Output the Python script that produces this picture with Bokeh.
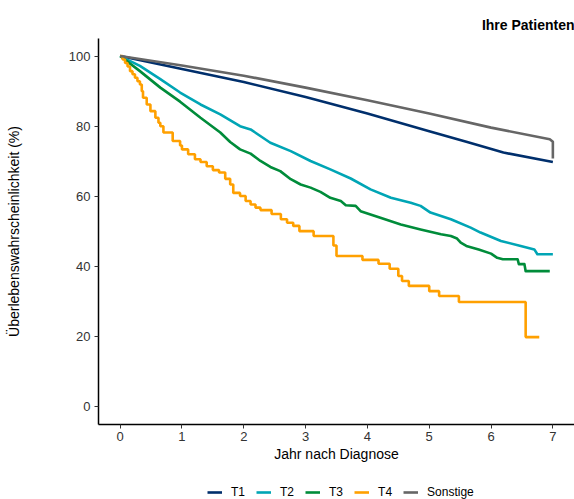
from bokeh.plotting import figure
from bokeh.layouts import column
from bokeh.models import Range1d, FixedTicker, Legend, LegendItem
from bokeh.embed import file_html
from bokeh.resources import INLINE

# ---- data ----
x_ticks = [0, 1, 2, 3, 4, 5, 6, 7]
y_ticks = [0, 20, 40, 60, 80, 100]

series_names = ["T1", "T2", "T3", "T4", "Sonstige"]

t1_time = [0, 1, 2, 3, 4, 5, 5.6, 6.2, 7.0]
t1_surv = [100, 96.3, 92.6, 88.3, 83.6, 78.6, 75.6, 72.5, 69.8]

t2_time = [0, 0.32, 0.65, 0.97, 1.3, 1.62, 1.94, 2.11, 2.43, 2.76, 3.08, 3.4, 3.73,
           4.05, 4.38, 4.7, 4.86, 5.02, 5.35, 5.67, 5.83, 6.16, 6.48, 6.7, 6.75, 7.0]
t2_surv = [100, 97.2, 93.4, 89.6, 86.2, 83.4, 80.0, 79.1, 75.3, 72.9, 70.1, 67.7, 65.1,
           62.0, 59.6, 58.2, 57.3, 55.4, 53.5, 51.1, 49.7, 47.3, 45.9, 44.9, 43.5, 43.5]

t3_time = [0, 0.32, 0.65, 0.97, 1.3, 1.62, 1.78, 1.94, 2.11, 2.27, 2.43, 2.59, 2.76,
           2.92, 3.08, 3.24, 3.4, 3.57, 3.65, 3.81, 3.89, 4.21, 4.54, 4.86, 5.19, 5.35,
           5.45, 5.51, 5.6, 5.8, 6.0, 6.1, 6.19, 6.43, 6.45, 6.54, 6.56, 6.95]
t3_surv = [100, 95.7, 91.0, 87.0, 82.4, 78.2, 75.5, 73.4, 72.2, 70.1, 68.4, 67.2, 64.9,
           63.4, 62.5, 61.3, 59.6, 58.7, 57.5, 57.3, 55.8, 53.9, 52.0, 50.6, 49.2, 48.7,
           48.0, 46.8, 45.9, 44.9, 43.7, 42.5, 42.1, 42.1, 40.7, 40.7, 38.7, 38.7]

t4_time = [0, 0.04, 0.08, 0.12, 0.16, 0.20, 0.24, 0.28, 0.32, 0.35, 0.37, 0.43, 0.49,
           0.57, 0.62, 0.65, 0.70, 0.85, 0.97, 1.00, 1.10, 1.21, 1.30, 1.40, 1.50, 1.60,
           1.70, 1.78, 1.83, 1.94, 2.03, 2.11, 2.19, 2.27, 2.45, 2.60, 2.70, 2.80, 2.90,
           3.13, 3.45, 3.50, 3.92, 4.18, 4.36, 4.50, 4.56, 4.67, 5.00, 5.16, 5.48, 6.56, 6.78]
t4_surv = [100, 99.0, 98.0, 97.0, 95.7, 94.8, 93.8, 92.8, 91.9, 90.0, 88.1, 86.2, 84.3,
           82.4, 81.0, 80.0, 78.2, 75.8, 74.5, 73.4, 72.0, 70.6, 69.8, 68.6, 67.5, 66.8,
           65.0, 63.4, 61.0, 60.1, 58.7, 57.7, 56.8, 56.1, 55.0, 53.5, 52.5, 51.6, 50.1,
           48.7, 46.0, 43.0, 41.9, 40.8, 39.4, 37.3, 35.9, 34.5, 33.0, 31.6, 29.9, 19.9, 19.9]

other_time = [0, 1, 2, 3, 4, 5, 6, 6.95, 7.0, 7.0]
other_surv = [100, 97.3, 94.4, 91.0, 87.4, 83.6, 79.6, 76.3, 75.6, 70.8]

colors = {"T1": "#002f6c", "T2": "#00a5b5", "T3": "#008c3a", "T4": "#ffa000", "Sonstige": "#666666"}

FONT = "Liberation Sans"
LW = 2.6

# ---------------- main plot ----------------
p = figure(width=574, height=476, output_backend="svg", toolbar_location=None,
           x_range=Range1d(-0.35, 7.35), y_range=Range1d(-5, 105))
p.min_border_left = 98
p.min_border_right = 0
p.min_border_top = 38
p.min_border_bottom = 52
p.outline_line_color = None
p.xgrid.visible = False
p.ygrid.visible = False
p.background_fill_color = "white"
p.border_fill_color = "white"

p.title.text = "Ihre Patienten"
p.title.align = "right"
p.title.text_font = FONT
p.title.text_font_size = "14px"
p.title.text_font_style = "bold"
p.title.text_color = "black"
p.title.standoff = 12

for ax in (p.xaxis[0], p.yaxis[0]):
    ax.axis_line_color = "black"
    ax.axis_line_width = 1.5
    ax.major_tick_line_color = "#333333"
    ax.major_tick_in = 0
    ax.major_tick_out = 4
    ax.minor_tick_line_color = None
    ax.major_label_text_font = FONT
    ax.major_label_text_font_size = "13px"
    ax.major_label_text_color = "#333333"
    ax.axis_label_text_font = FONT
    ax.axis_label_text_font_size = "14px"
    ax.axis_label_text_font_style = "normal"
    ax.axis_label_text_color = "black"

p.xaxis.ticker = FixedTicker(ticks=x_ticks)
p.yaxis.ticker = FixedTicker(ticks=y_ticks)
p.xaxis.axis_label = "Jahr nach Diagnose"
p.yaxis.axis_label = "Überlebenswahrscheinlichkeit (%)"
p.xaxis.major_label_standoff = 3
p.xaxis.axis_label_standoff = 2
p.yaxis.major_label_standoff = 4
p.yaxis.axis_label_standoff = 44

p.line(t1_time, t1_surv, line_color=colors["T1"], line_width=LW, line_join="round")
p.line(t2_time, t2_surv, line_color=colors["T2"], line_width=LW, line_join="round")
p.line(t3_time, t3_surv, line_color=colors["T3"], line_width=LW, line_join="round")
p.step(t4_time, t4_surv, mode="after", line_color=colors["T4"], line_width=LW)
p.line(other_time, other_surv, line_color=colors["Sonstige"], line_width=LW, line_join="round")

# ---------------- legend strip ----------------
lg = figure(width=574, height=23, output_backend="svg", toolbar_location=None,
            x_range=Range1d(0, 1), y_range=Range1d(0, 1),
            x_axis_type=None, y_axis_type=None)
lg.min_border_left = 0
lg.min_border_right = 0
lg.min_border_top = 0
lg.min_border_bottom = 0
lg.outline_line_color = None
lg.xgrid.visible = False
lg.ygrid.visible = False

# single-point key lines (a one-point line draws nothing, only the legend key shows)
key_renderers = [lg.line([-1], [-1], line_color=colors[n], line_width=LW) for n in series_names]

legend = Legend(items=[LegendItem(label=n, renderers=[r]) for n, r in zip(series_names, key_renderers)],
                orientation="horizontal", location=(109, 0),
                glyph_width=15, glyph_height=8, label_height=8, label_width=1,
                label_standoff=9, spacing=11, padding=0, margin=0,
                border_line_color=None, background_fill_alpha=0,
                label_text_font=FONT, label_text_font_size="12px", label_text_color="black")
lg.add_layout(legend, "center")

layout = column(p, lg, spacing=0)

open("out.html", "w").write(file_html(layout, INLINE))
